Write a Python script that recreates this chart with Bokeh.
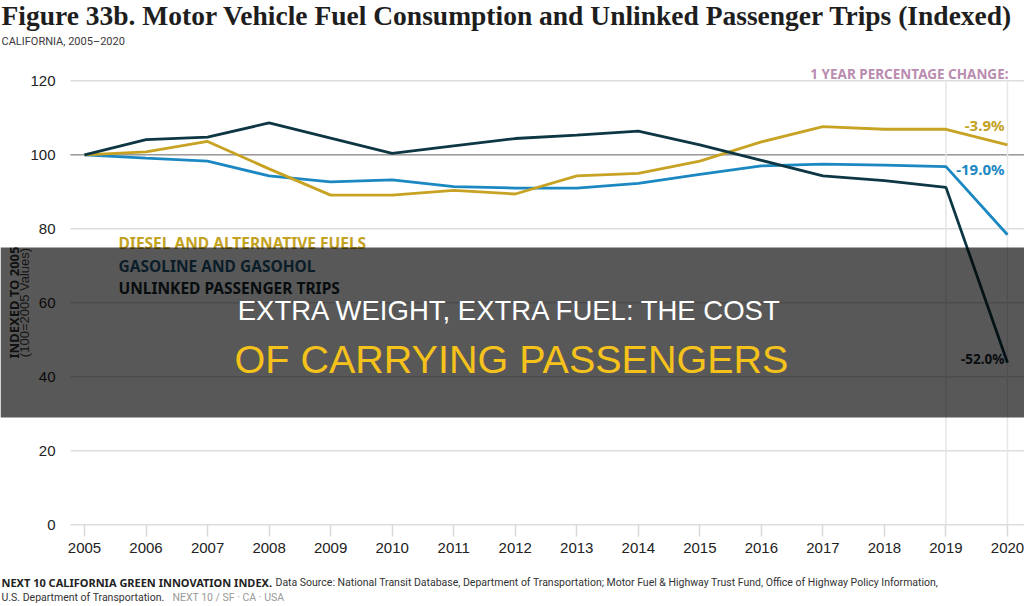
import math

from bokeh.embed import file_html
from bokeh.models import BoxAnnotation, FixedTicker, Label
from bokeh.plotting import figure
from bokeh.resources import INLINE

# ---- data -------------------------------------------------------------
years = list(range(2005, 2021))
diesel = [100, 100.8, 103.6, 96.2, 89.1, 89.1, 90.4, 89.4, 94.3, 95.0,
          98.3, 103.5, 107.6, 106.9, 106.9, 102.7]
gasoline = [100, 99.1, 98.3, 94.3, 92.7, 93.2, 91.4, 91.0, 91.0, 92.3,
            94.7, 97.0, 97.5, 97.2, 96.8, 78.4]
trips = [100, 104.1, 104.8, 108.6, 104.5, 100.4, 102.4, 104.4, 105.3, 106.4,
         102.7, 98.5, 94.3, 93.0, 91.2, 43.8]
series_names = ["DIESEL AND ALTERNATIVE FUELS", "GASOLINE AND GASOHOL",
                "UNLINKED PASSENGER TRIPS"]
y_ticks = [0, 20, 40, 60, 80, 100, 120]
base_level = 100
highlight_years = [2019, 2020]

# ---- styling ----------------------------------------------------------
GOLD = "#c8a323"
BLUE = "#1c88c2"
DARK = "#0e3744"
GOLD_TXT = "#c3a21f"
BLUE_TXT = "#1d5677"
DARK_TXT = "#17262c"
TICK_FONT = "Liberation Sans"
CAPS_FONT = "Noto Sans"

W, H = 1024, 606
PLOT_LEFT_PX = 70          # where the gridlines begin
ZERO_PX = 524.3            # canvas row of the zero line
PX_PER_YEAR = 923 / 15
PX_PER_UNIT = 3.7
X_START = 2005 - 84 / PX_PER_YEAR
X_END = X_START + W / PX_PER_YEAR
Y_START = (ZERO_PX - H) / PX_PER_UNIT
Y_END = ZERO_PX / PX_PER_UNIT


def xd(px):
    """canvas pixel column -> data x"""
    return X_START + px / PX_PER_YEAR


def yd(py):
    """canvas pixel row -> data y"""
    return (ZERO_PX - py) / PX_PER_UNIT


# the frame fills the whole canvas; axes sit at fixed data locations
p = figure(width=W, height=H, output_backend="svg", toolbar_location=None,
           x_range=(X_START, X_END), y_range=(Y_START, Y_END),
           min_border=0, title=None)
p.outline_line_color = None
p.background_fill_color = "white"
p.border_fill_color = "white"
p.xgrid.grid_line_color = None
p.ygrid.grid_line_color = None

p.xaxis.fixed_location = 0
p.xaxis.ticker = FixedTicker(ticks=years)
p.xaxis.axis_line_color = None
p.xaxis.major_tick_line_color = "#d9d9d9"
p.xaxis.major_tick_line_width = 1.5
p.xaxis.major_tick_out = 12
p.xaxis.major_tick_in = 0
p.xaxis.minor_tick_line_color = None
p.xaxis.major_label_standoff = 6
p.xaxis.major_label_text_font = TICK_FONT
p.xaxis.major_label_text_font_size = "15px"
p.xaxis.major_label_text_color = "#222222"

p.yaxis.fixed_location = xd(PLOT_LEFT_PX)
p.yaxis.ticker = FixedTicker(ticks=y_ticks)
p.yaxis.axis_line_color = None
p.yaxis.major_tick_line_color = None
p.yaxis.minor_tick_line_color = None
p.yaxis.major_tick_out = 0
p.yaxis.major_tick_in = 0
p.yaxis.major_label_standoff = 15
p.yaxis.major_label_text_font = TICK_FONT
p.yaxis.major_label_text_font_size = "15px"
p.yaxis.major_label_text_color = "#222222"

# horizontal gridlines from the tick values
grid_left = [xd(PLOT_LEFT_PX)] * len(y_ticks)
grid_right = [X_END] * len(y_ticks)
p.segment(x0=grid_left, x1=grid_right, y0=y_ticks, y1=y_ticks,
          line_color="#dddddd", line_width=1.5)
p.segment(x0=[xd(PLOT_LEFT_PX)], x1=[X_END], y0=[base_level], y1=[base_level],
          line_color="#9c9c9c", line_width=1.5)

# vertical markers for the last two years
p.segment(x0=highlight_years, x1=highlight_years, y0=[0, 0], y1=[120, 120],
          line_color="#e6e6e6", line_width=1.5)

# series
p.line(years, gasoline, line_color=BLUE, line_width=2.8)
p.line(years, diesel, line_color=GOLD, line_width=2.8)
p.line(years, trips, line_color=DARK, line_width=2.8)


def add_text(text, px, py, size, color, font, style="normal", align="left",
             baseline="alphabetic", angle=0, level="annotation"):
    p.add_layout(Label(x=xd(px), y=yd(py), text=text,
                       text_font_size=f"{size}px", text_color=color,
                       text_font=font, text_font_style=style,
                       text_align=align, text_baseline=baseline,
                       angle=angle, level=level))


# header
add_text("Figure 33b. Motor Vehicle Fuel Consumption and Unlinked Passenger Trips (Indexed)",
         1, 15, 27.5, "#1e1e1e", "Liberation Serif", style="bold")
add_text("CALIFORNIA, 2005\u20132020", 1, 41, 11, "#3a3a3a", "Roboto")

# y axis title
add_text("INDEXED TO 2005", 13, 302, 13, "#333333", CAPS_FONT, style="bold",
         align="center", baseline="middle", angle=math.pi / 2)
add_text("(100=2005 Values)", 24, 302, 13, "#444444", TICK_FONT,
         align="center", baseline="middle", angle=math.pi / 2)

# legend text
for name, color, py in zip(series_names, [GOLD_TXT, BLUE_TXT, DARK_TXT],
                           [242, 265, 287]):
    add_text(name, 118, py, 15.5, color, CAPS_FONT, style="bold")

# one year change
add_text("1 YEAR PERCENTAGE CHANGE:", 1008, 73, 13.5, "#b98cb0", CAPS_FONT,
         style="bold", align="right")
for vals, color, py, size in [(diesel, GOLD_TXT, 124.5, 15),
                              (gasoline, BLUE, 168, 15),
                              (trips, DARK_TXT, 358, 13.5)]:
    change = (vals[-1] / vals[-2] - 1) * 100
    add_text(f"{change:.1f}%", 1004, py, size, color, CAPS_FONT,
             style="bold", align="right")

# footer
add_text("NEXT 10 CALIFORNIA GREEN INNOVATION INDEX.", 1, 582, 11, "#222222",
         CAPS_FONT, style="bold")
add_text("Data Source: National Transit Database, Department of Transportation; "
         "Motor Fuel & Highway Trust Fund, Office of Highway Policy Information,",
         275, 582, 10.5, "#333333", "Roboto")
add_text("U.S. Department of Transportation.", 1, 597, 10.5, "#333333", "Roboto")
add_text("NEXT 10  /  SF \u00b7 CA \u00b7 USA", 172, 597, 10.5, "#999999", "Roboto")

# banner across the middle
p.add_layout(BoxAnnotation(left=xd(0), right=xd(W), top=yd(247), bottom=yd(417),
                           fill_color="black", fill_alpha=0.655,
                           line_color=None, level="overlay"))
add_text("EXTRA WEIGHT, EXTRA FUEL: THE COST", 510, 310, 27.5, "white",
         "Liberation Sans", align="center", level="overlay")
add_text("OF CARRYING PASSENGERS", 511, 358, 39.5, "#f5c21b",
         "Liberation Sans", align="center", level="overlay")

open("out.html", "w").write(file_html(p, INLINE))
